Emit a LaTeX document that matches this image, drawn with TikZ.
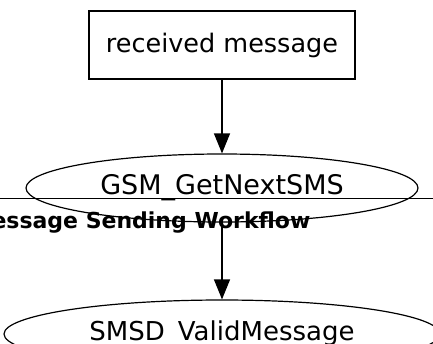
\documentclass[tikz,border=0pt]{standalone}
\usepackage{fontspec}
\setmainfont{DejaVu Sans}
\usetikzlibrary{arrows.meta,shapes.geometric}
\begin{document}
\begin{tikzpicture}[x=1pt,y=-1pt,
  every node/.style = {draw, line width=1.2pt, inner sep=0pt},
  box/.style = {rectangle, minimum width=266pt, minimum height=68pt,
    font=\fontsize{25.5}{30}\selectfont},
  oval/.style = {ellipse, minimum height=68pt},
  flow/.style = {line width=1.2pt, -{Triangle[length=20pt,width=16pt]}}]
  \useasboundingbox (0,0) rectangle (433,343);
  \draw[line width=0.9pt] (0,198) -- (433,198);
  \node[draw=none, anchor=base east,
    font=\fontsize{22}{26}\selectfont\bfseries] (title) at (311,228)
    {essage Sending Workflow};
  \node[box] (recv) at (222,45) {received message};
  \node[oval, minimum width=392pt, font=\fontsize{27}{32}\selectfont]
    (getnext) at (222,188) {GSM\_GetNextSMS};
  \node[oval, minimum width=436pt, font=\fontsize{26}{31}\selectfont]
    (validmsg) at (222,334) {SMSD\_ValidMessage};
  \draw[flow] (recv) -- (getnext);
  \draw[flow] (getnext) -- (validmsg);
\end{tikzpicture}
\end{document}
